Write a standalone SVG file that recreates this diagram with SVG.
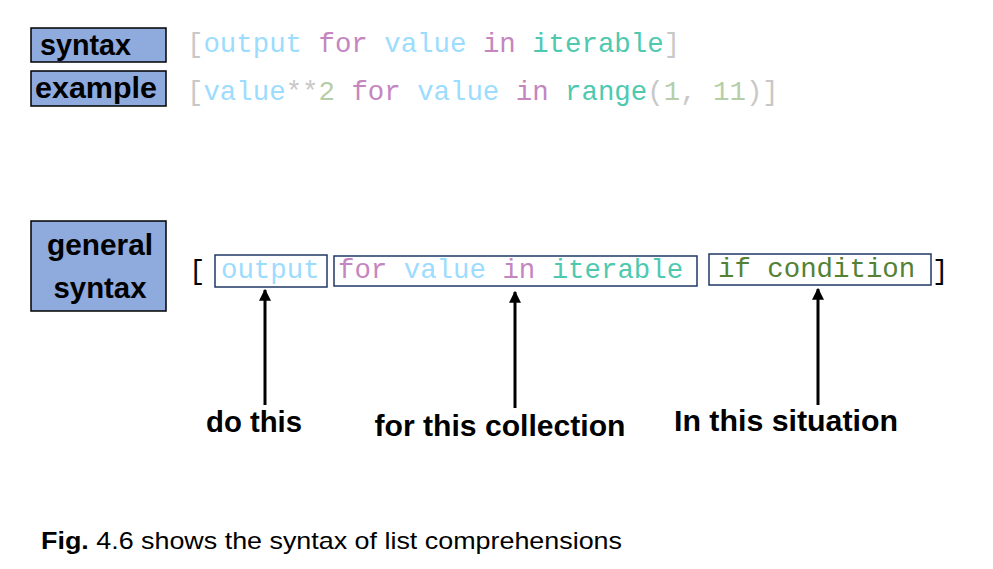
<svg xmlns="http://www.w3.org/2000/svg" width="993" height="569" viewBox="0 0 993 569">
<style>
.lbl{fill:#8faadc;stroke:#000;stroke-width:1.5}
.lt{font-family:"Liberation Sans",Arial,sans-serif;font-weight:bold;font-size:30px;fill:#000}
.code{font-family:"Liberation Mono","DejaVu Sans Mono",monospace;font-size:27.4px;white-space:pre}
.cbox{fill:none;stroke:#1f3864;stroke-width:1.5}
.g{fill:#c8c8c8}.b{fill:#9cdcfe}.p{fill:#c586c0}.t{fill:#4ec9b0}.n{fill:#b5cea8}.dg{fill:#548235}.k{fill:#000}
.arr{stroke:#000;stroke-width:3;fill:none;marker-end:url(#ah)}
.cap{font-family:"Liberation Sans",Arial,sans-serif;font-size:24px;fill:#000}
</style>
<defs>
<marker id="ah" viewBox="0 0 10 10" refX="9" refY="5" markerWidth="4" markerHeight="4" orient="auto" markerUnits="strokeWidth">
<path d="M0,0 L10,5 L0,10 z" fill="#000"/>
</marker>
</defs>
<rect width="993" height="569" fill="#fff"/>
<g id="syntax">
<rect class="lbl" x="31" y="28" width="135" height="34"/>
<text class="lt" x="40" y="55" textLength="91" lengthAdjust="spacingAndGlyphs">syntax</text>
<text class="code" x="187" y="52" xml:space="preserve"><tspan class="g">[</tspan><tspan class="b">output</tspan> <tspan class="p">for</tspan> <tspan class="b">value</tspan> <tspan class="p">in</tspan> <tspan class="t">iterable</tspan><tspan class="g">]</tspan></text>
</g>
<g id="example">
<rect class="lbl" x="31" y="71" width="135" height="35"/>
<text class="lt" x="35" y="98" textLength="122" lengthAdjust="spacingAndGlyphs">example</text>
<text class="code" x="187" y="100" xml:space="preserve"><tspan class="g">[</tspan><tspan class="b">value</tspan><tspan class="g">**</tspan><tspan class="n">2</tspan> <tspan class="p">for</tspan> <tspan class="b">value</tspan> <tspan class="p">in</tspan> <tspan class="t">range</tspan><tspan class="g">(</tspan><tspan class="n">1</tspan><tspan class="g">,</tspan> <tspan class="n">11</tspan><tspan class="g">)]</tspan></text>
</g>
<g id="general-syntax">
<rect class="lbl" x="31" y="221" width="135" height="90"/>
<text class="lt" x="100" y="255" text-anchor="middle" textLength="106" lengthAdjust="spacingAndGlyphs">general</text>
<text class="lt" x="100" y="298" text-anchor="middle" textLength="93" lengthAdjust="spacingAndGlyphs">syntax</text>
</g>
<g id="code-line">
<text class="code k" x="189" y="279">[</text>
<text class="code k" x="932" y="279">]</text>
</g>
<g id="output-box">
<rect class="cbox" x="215" y="255" width="112" height="32"/>
<text class="code b" x="221" y="278">output</text>
</g>
<g id="for-box">
<rect class="cbox" x="334" y="256" width="363" height="30"/>
<text class="code" x="338" y="278" xml:space="preserve"><tspan class="p">for</tspan> <tspan class="b">value</tspan> <tspan class="p">in</tspan> <tspan class="t">iterable</tspan></text>
</g>
<g id="if-box">
<rect class="cbox" x="709" y="254" width="222" height="31"/>
<text class="code dg" x="718" y="277">if condition</text>
</g>
<g id="connectors">
<line class="arr" x1="265" y1="405" x2="265" y2="290"/>
<line class="arr" x1="515" y1="408" x2="515" y2="292"/>
<line class="arr" x1="818" y1="405" x2="818" y2="289"/>
</g>
<g id="label-do-this">
<text class="lt" x="254" y="432" text-anchor="middle" textLength="96" lengthAdjust="spacingAndGlyphs">do this</text>
</g>
<g id="label-collection">
<text class="lt" x="500" y="436" text-anchor="middle" textLength="251" lengthAdjust="spacingAndGlyphs">for this collection</text>
</g>
<g id="label-situation">
<text class="lt" x="786" y="431" text-anchor="middle" textLength="224" lengthAdjust="spacingAndGlyphs">In this situation</text>
</g>
<g id="caption">
<text class="cap" x="41" y="549" textLength="581" lengthAdjust="spacingAndGlyphs"><tspan font-weight="bold">Fig.</tspan> 4.6 shows the syntax of list comprehensions</text>
</g>
</svg>
